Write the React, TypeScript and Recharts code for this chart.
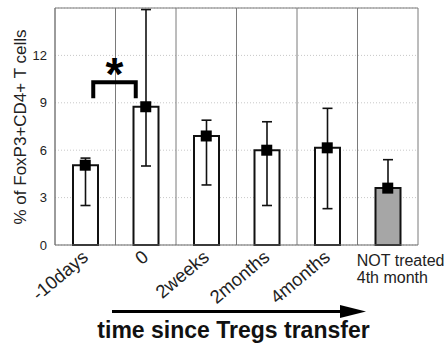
import {
  Bar,
  CartesianGrid,
  Cell,
  ComposedChart,
  ErrorBar,
  ReferenceLine,
  Scatter,
  XAxis,
  YAxis,
} from "recharts";

const categories = [
  "-10days",
  "0",
  "2weeks",
  "2months",
  "4months",
  "NOT treated\n4th month",
];
const means = [5.05, 8.75, 6.9, 6.0, 6.15, 3.6];
const lowerBounds = [2.5, 5.0, 3.8, 2.5, 2.3, 3.6];
const upperBounds = [5.5, 14.9, 7.9, 7.8, 8.65, 5.4];
const treated = [true, true, true, true, true, false];
const yTicks = [0, 3, 6, 9, 12];
const yMax = 15;
const bracketLevel = 10.3;

const FONT = "'Liberation Sans', Arial, sans-serif";

const data = categories.map((name, i) => ({
  name,
  value: means[i],
  err: [means[i] - lowerBounds[i], upperBounds[i] - means[i]],
  treated: treated[i],
}));

function CategoryTick({ x, y, payload }: any) {
  const label: string = payload.value;
  if (label.includes("\n")) {
    const lines = label.split("\n");
    return (
      <text x={x - 31} y={y + 13} fontSize={16} fill="#222" fontFamily={FONT}>
        {lines.map((line, i) => (
          <tspan key={i} x={x - 31} dy={i === 0 ? 0 : 17}>
            {line}
          </tspan>
        ))}
      </text>
    );
  }
  const ax = x + 4;
  const ay = y + 6;
  return (
    <text
      x={ax}
      y={ay}
      textAnchor="end"
      fontSize={18.5}
      fill="#222"
      fontFamily={FONT}
      style={{ transform: "rotate(-40deg)", transformOrigin: `${ax}px ${ay}px`, transformBox: "view-box" }}
    >
      {label}
    </text>
  );
}

function SquareMarker({ cx, cy }: any) {
  return <rect x={cx - 5.5} y={cy - 5.5} width={11} height={11} fill="#000" />;
}

function Bracket({ x1, y1, x2 }: any) {
  const left = x1 + 8;
  const right = x2 - 10;
  return (
    <g>
      <path
        d={`M${left},${y1 + 16} L${left},${y1} L${right},${y1} L${right},${y1 + 16}`}
        fill="none"
        stroke="#000"
        strokeWidth={4}
      />
      <text
        x={(left + right) / 2}
        y={y1 + 8}
        textAnchor="middle"
        fontSize={46}
        fontWeight="bold"
        fontFamily={FONT}
        fill="#000"
      >
        *
      </text>
    </g>
  );
}

export default function App() {
  return (
    <div
      style={{
        position: "absolute",
        left: 0,
        top: 0,
        width: 447,
        height: 347,
        background: "#fff",
      }}
    >
      <ComposedChart
        width={447}
        height={347}
        data={data}
        margin={{ top: 8, right: 29, left: 0, bottom: 0 }}
      >
        <CartesianGrid
          vertical={false}
          stroke="#c8c8c8"
          strokeDasharray="1 2"
        />
        <CartesianGrid
          horizontal={false}
          stroke="#7a7a7a"
          verticalCoordinatesGenerator={({ offset }: any) =>
            categories
              .map((_, i) => offset.left + (offset.width * i) / categories.length)
              .concat(offset.left + offset.width)
          }
        />
        <ReferenceLine y={yMax} stroke="#7a7a7a" />
        <XAxis
          dataKey="name"
          interval={0}
          height={102}
          tickLine={false}
          axisLine={{ stroke: "#666" }}
          tick={<CategoryTick />}
        />
        <YAxis
          width={55}
          domain={[0, yMax]}
          ticks={yTicks}
          tickLine={false}
          axisLine={{ stroke: "#7a7a7a" }}
          tick={{ fontSize: 13, fill: "#222", fontFamily: FONT }}
        />
        <Bar
          dataKey="value"
          barSize={25}
          stroke="#111"
          strokeWidth={2}
          isAnimationActive={false}
        >
          {data.map((d, i) => (
            <Cell key={i} fill={d.treated ? "#fff" : "#a6a6a6"} />
          ))}
          <ErrorBar dataKey="err" width={5} stroke="#111" strokeWidth={1.6} />
        </Bar>
        <Scatter
          dataKey="value"
          shape={<SquareMarker />}
          isAnimationActive={false}
        />
        <ReferenceLine
          segment={[
            { x: categories[0], y: bracketLevel },
            { x: categories[1], y: bracketLevel },
          ]}
          shape={<Bracket />}
        />
      </ComposedChart>
      <svg
        width={447}
        height={347}
        style={{ position: "absolute", left: 0, top: 0, pointerEvents: "none" }}
      >
        <text
          transform="translate(26, 127) rotate(-90)"
          textAnchor="middle"
          fontSize={17}
          fill="#222"
          fontFamily={FONT}
        >
          % of FoxP3+CD4+ T cells
        </text>
        <line x1={112} y1={311.5} x2={345} y2={311.5} stroke="#000" strokeWidth={3} />
        <polygon points="340,305 366,311.5 340,318" fill="#000" />
        <text
          x={233.5}
          y={338}
          textAnchor="middle"
          fontSize={23}
          fontWeight="bold"
          fill="#111"
          fontFamily={FONT}
        >
          time since Tregs transfer
        </text>
      </svg>
    </div>
  );
}
